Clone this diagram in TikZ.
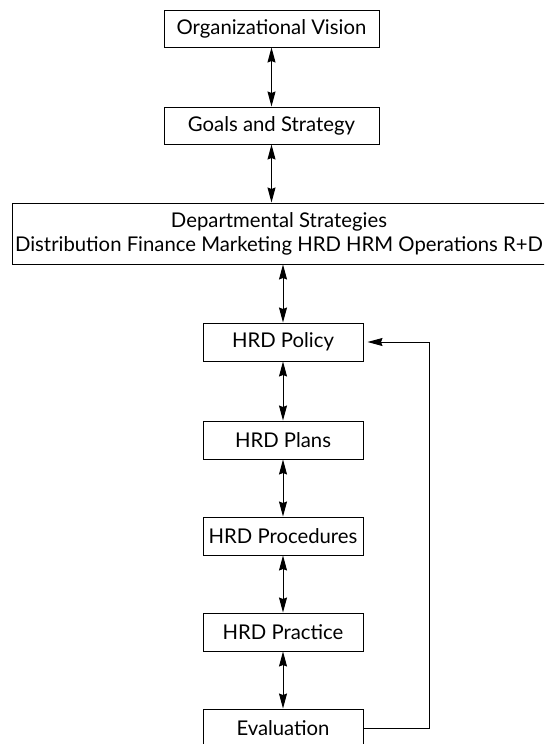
\documentclass[tikz,border=0pt]{standalone}
\usepackage{fontspec}
\setmainfont{Lato}
\usetikzlibrary{arrows.meta}

\begin{document}
\begin{tikzpicture}[x=1pt,y=1pt,line width=1pt,>={Stealth[length=15pt,width=8pt,inset=1.5pt]}]
                \tikzstyle{level}=[rectangle,draw=black,fill=white,inner sep=0pt,font=\fontsize{20.3}{24}\selectfont]
                \tikzstyle{hrd}=[level,minimum width=160pt,minimum height=38pt]
                \clip (0,0) rectangle (544,-744);
                \useasboundingbox (0,0) rectangle (544,-744);
                        \node[level,minimum width=215pt,minimum height=37pt] (vision) at (271.5,-28.5){Organizational Vision};
                        \node[level,minimum width=215pt,minimum height=37pt] (goals) at (271.5,-125.5){Goals and Strategy};
                        \node[level,minimum width=534pt,minimum height=61pt,align=center] (dept) at (279,-233.5){Departmental Strategies\\Distribution Finance Marketing HRD HRM Operations R+D};
                        \node[hrd] (H-1) at (283,-342){HRD Policy};
                        \node[hrd] (H-2) at (283,-440){HRD Plans};
                        \node[hrd] (H-3) at (283,-536){HRD Procedures};
                        \node[hrd] (H-4) at (283,-632){HRD Practice};
                        \node[hrd] (H-5) at (283,-728){Evaluation};
                        \coordinate (back) at (429,-342);

                    \draw[<->] (vision) -- (goals);
                    \draw[<->] (goals.south) -- (goals.south |- dept.north);
                    \draw[<->] (H-1.north |- dept.south) -- (H-1.north);
                    \foreach \from/\to in {1/2, 2/3, 3/4, 4/5}
                        \draw[<->] (H-\from) -- (H-\to);
                    \draw[->,shorten >=4pt] (H-5.east) -| (back) -- (H-1.east);
            \end{tikzpicture}
\end{document}
